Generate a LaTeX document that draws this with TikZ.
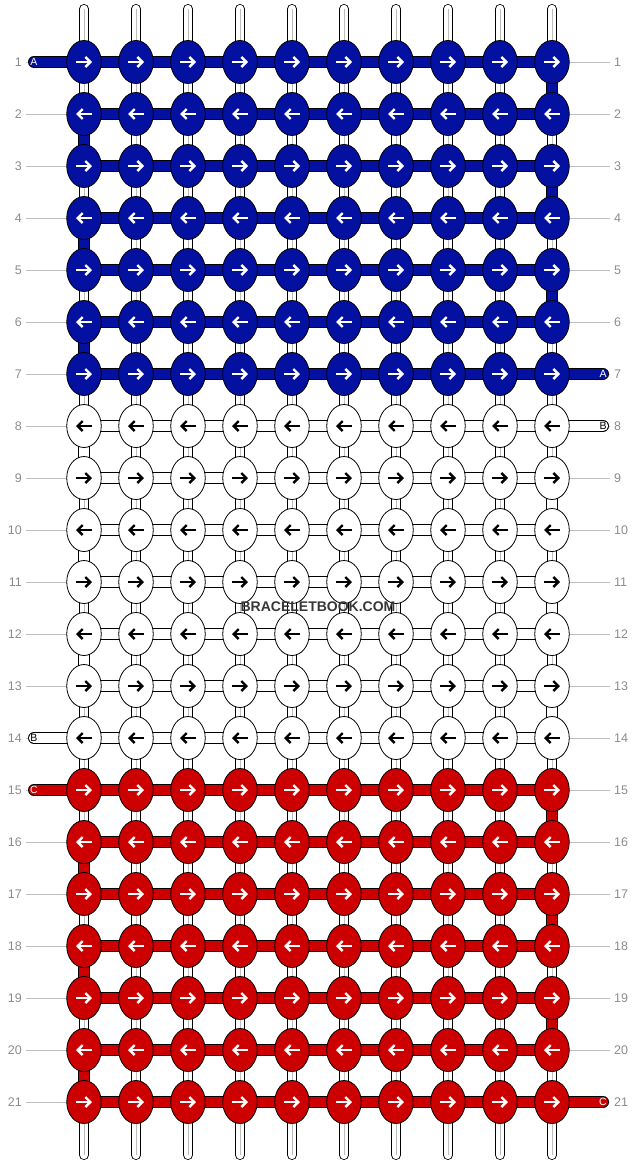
\documentclass[tikz,border=0pt]{standalone}
\usepackage{fontspec}
\setmainfont{Liberation Sans}
\usetikzlibrary{shapes.geometric,arrows.meta,backgrounds}
\definecolor{knotblue}{RGB}{4,17,160}
\definecolor{knotred}{RGB}{204,0,0}
\definecolor{numgray}{RGB}{140,140,140}
\definecolor{guidegray}{RGB}{190,190,190}
\definecolor{markgray}{RGB}{55,55,55}
\tikzset{
  knot/.style={ellipse,draw,line width=0.8pt,minimum width=34.5pt,minimum height=43pt,inner sep=0pt},
  thread/.style={draw=black,line width=0.8pt,double=#1,double distance=10.4pt},
  strand/.style={draw=black,line width=0.8pt,double=white,double distance=8.4pt,line cap=round},
  knotarrow/.style={line width=2.4pt,-{Straight Barb[length=5pt,width=10pt]},draw=#1},
  rownum/.style={text=numgray,font=\fontsize{12.5}{14}\selectfont,inner xsep=4pt,inner ysep=0pt},
  endlabel/.style={font=\fontsize{10.5}{12}\selectfont,inner sep=0pt},
  guide/.style={draw=guidegray,line width=0.8pt}
}

\begin{document}
\begin{tikzpicture}[x=1pt,y=-1pt]
\useasboundingbox (0,0) rectangle (636,1164);
% knots, one block per thread colour
\foreach \fc/\ac/\ra/\rb in {knotblue/white/1/7, white/black/8/14, knotred/white/15/21}{
  \foreach \r in {\ra,...,\rb}{
    \pgfmathtruncatemacro\d{mod(\r,2)==1 ? 8 : -8}
    \pgfmathtruncatemacro\e{mod(\r,2)==1 ? -8 : 8}
    \foreach \c in {1,...,10}{
      \node[knot,fill=\fc] (k-\r-\c) at ({84+52*(\c-1)},{62+52*(\r-1)}) {};
      \draw[knotarrow=\ac] ([xshift=\e pt]k-\r-\c.center) -- ([xshift=\d pt]k-\r-\c.center);
    }
  }
}
% row numbers
\foreach \r in {1,...,21}{
  \node[rownum,anchor=east] (nl-\r) at (26,{62+52*(\r-1)}) {\r};
  \node[rownum,anchor=west] (nr-\r) at (610,{62+52*(\r-1)}) {\r};
}
\node[endlabel,text=white] (a-in) at (34,62) {A};
\node[endlabel,text=white] (a-out) at (603,374) {A};
\node[endlabel] (b-in) at (603,426) {B};
\node[endlabel] (b-out) at (34,738) {B};
\node[endlabel,text=white] (c-in) at (34,790) {C};
\node[endlabel,text=white] (c-out) at (603,1102) {C};
\node[font=\bfseries\fontsize{14}{16}\selectfont,text=markgray] (mark) at (318,607) {BRACELETBOOK.COM};

\begin{pgfonlayer}{background}
\foreach \r in {1,...,21} \draw[guide] (nl-\r) -- (nr-\r);
% the ten hanging strands
\foreach \c in {1,...,10}{
  \coordinate (t-\c) at ({84+52*(\c-1)},9);
  \coordinate (b-\c) at ({84+52*(\c-1)},1155);
  \draw[strand] (t-\c) -- (b-\c);
  \draw[guide,line width=0.6pt] (t-\c) -- (b-\c);
}
% working threads, zigzag down each block
\foreach \fc/\ra/\rb in {knotblue/1/7, white/8/14, knotred/15/21}{
  \foreach \r in {\ra,...,\rb}{
    \draw[thread=\fc] (k-\r-1.center) -- (k-\r-10.center);
    \ifnum\r<\rb
      \pgfmathtruncatemacro\s{mod(\r,2)==1 ? 10 : 1}
      \pgfmathtruncatemacro\n{\r+1}
      \draw[thread=\fc] (k-\r-\s.center) -- (k-\n-\s.center);
    \fi
  }
}
\draw[thread=knotblue,line cap=round] (a-in.center) -- (k-1-1.center);
\draw[thread=knotblue,line cap=round] (k-7-10.center) -- (a-out.center);
\draw[thread=white,line cap=round] (b-in.center) -- (k-8-10.center);
\draw[thread=white,line cap=round] (k-14-1.center) -- (b-out.center);
\draw[thread=knotred,line cap=round] (c-in.center) -- (k-15-1.center);
\draw[thread=knotred,line cap=round] (k-21-10.center) -- (c-out.center);
\end{pgfonlayer}
\end{tikzpicture}
\end{document}
